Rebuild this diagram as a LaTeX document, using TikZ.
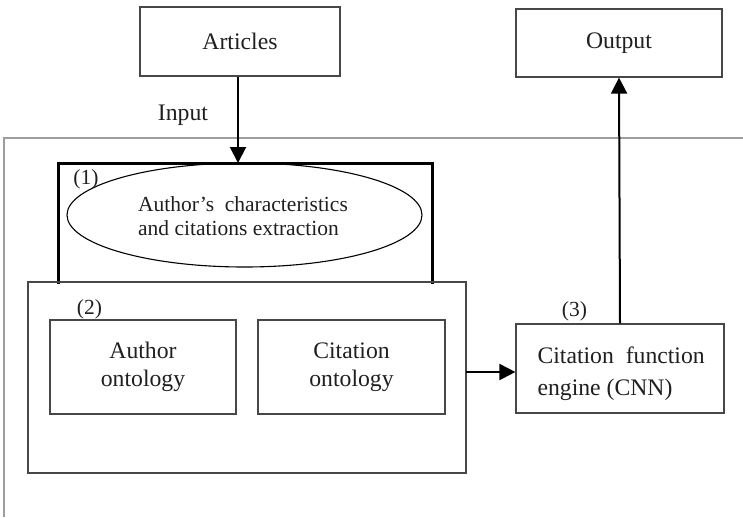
\documentclass[tikz,border=0pt]{standalone}
\usepackage{fontspec}
\setmainfont{Liberation Serif}
\usetikzlibrary{arrows.meta,shapes.geometric}

\begin{document}
\begin{tikzpicture}[x=1pt,y=-1pt,
  every node/.style={text=black!88},
  box/.style={draw=black!72,line width=1.2pt,rectangle,inner sep=0pt},
  bigtext/.style={font=\fontsize{23.7}{28}\selectfont},
  smalltext/.style={font=\fontsize{21.5}{24}\selectfont},
  arr/.style={draw=black,line width=2pt,-{Triangle[length=16pt,width=16pt]}},
  frame/.style={draw=black!38,line width=1.6pt},
  bracket/.style={draw=black,line width=3pt,line cap=rect}]

  % canvas
  \path[use as bounding box] (0,0) rectangle (743,517);

  % outer system boundary
  \draw[frame] (4,517) -- (4,138) -- (743,138);

  % external boxes
  \node[box,bigtext,minimum width=200pt,minimum height=69pt] (articles) at (240,41.5) {Articles};
  \node[box,bigtext,minimum width=206pt,minimum height=68pt] (output) at (619,43) {Output};
  \node[bigtext,anchor=base] (inputlbl) at (183,120) {Input};

  % step (1): extraction
  \coordinate (bl) at (58,282);
  \coordinate (tl) at (58,163);
  \coordinate (tr) at (432,163);
  \coordinate (br) at (432,282);
  \draw[bracket] (bl) -- (tl) -- (tr) -- (br);
  \node[ellipse,draw=black,line width=1.1pt,inner sep=0pt,
        minimum width=355pt,minimum height=104pt] (extract) at (244.5,215) {};
  \node[smalltext,align=left] (extracttxt) at (243,216) {Author's~ characteristics\\and citations extraction};
  \node[smalltext] (lbl1) at (86,179) {(1)};

  % step (2): ontologies
  \node[box,minimum width=438pt,minimum height=191pt] (onto) at (247,377.5) {};
  \node[smalltext] (lbl2) at (89.5,309) {(2)};
  \node[box,bigtext,align=center,minimum width=186pt,minimum height=94pt] (authont) at (143,367) {Author\\ontology};
  \node[box,bigtext,align=center,minimum width=187pt,minimum height=94pt] (citont) at (351.5,367) {Citation\\ontology};

  % step (3): classifier
  \node[box,minimum width=208pt,minimum height=89pt] (engine) at (620,368.5) {};
  \node[bigtext,align=left,font=\fontsize{23.7}{32}\selectfont,anchor=west] (enginetxt) at (534,374) {Citation~ function\\engine (CNN)};
  \node[smalltext] (lbl3) at (574.5,311) {(3)};

  % connectors
  \coordinate (inTip) at (238,163);
  \draw[arr] (articles.south -| inTip) -- (inTip);
  \coordinate (ontoOut) at (466,372);
  \draw[arr] (ontoOut) -- (engine.west |- ontoOut);
  \draw[arr] (engine.north) -- (output.south);
\end{tikzpicture}
\end{document}
